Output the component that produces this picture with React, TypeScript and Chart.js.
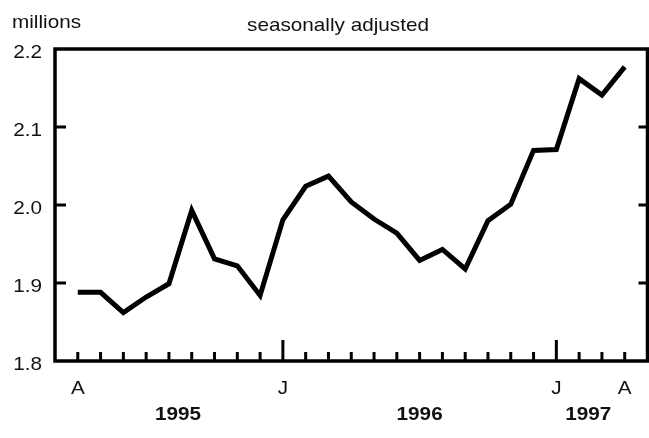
import React, { useEffect, useRef } from "react";
import { Chart, registerables } from "chart.js";

Chart.register(...registerables);

// Monthly, April 1995 – April 1997
const months = ["A","M","J","J","A","S","O","N","D","J","F","M","A","M","J","J","A","S","O","N","D","J","F","M","A"];
const monthLabels = ["A","","","","","","","","","J","","","","","","","","","","","","J","","","A"];
const longTickIdx = [9, 21];
const values = [1.888,1.888,1.862,1.882,1.899,1.993,1.931,1.922,1.884,1.981,2.024,2.037,2.004,1.982,1.964,1.929,1.943,1.918,1.980,2.001,2.070,2.071,2.162,2.141,2.177];
const yTicks = [1.8, 1.9, 2.0, 2.1, 2.2];
const years = ["1995", "1996", "1997"];
const yearPos = [4.4, 15, 22.4];
const unitLabel = "millions";
const titleLabel = "seasonally adjusted";

const FONT = "'Liberation Sans', Arial, sans-serif";
const SX = 1.09;

function drawText(ctx: CanvasRenderingContext2D, text: string, x: number, y: number, align: CanvasTextAlign, font: string) {
  ctx.save();
  ctx.translate(x, y);
  ctx.scale(SX, 1);
  ctx.font = font;
  ctx.textAlign = align;
  ctx.textBaseline = "alphabetic";
  ctx.fillStyle = "#111";
  ctx.fillText(text, 0, 0);
  ctx.restore();
}

const framePlugin = {
  id: "frame",
  afterDraw(chart: any) {
    const ctx: CanvasRenderingContext2D = chart.ctx;
    const { left, right, top, bottom } = chart.chartArea;
    const xs = chart.scales.x;
    const ys = chart.scales.y;
    ctx.save();
    ctx.strokeStyle = "#000";
    ctx.lineWidth = 3.5;
    ctx.lineCap = "butt";
    ctx.strokeRect(left, top, right - left, bottom - top);

    // y ticks (inside, both sides)
    ctx.lineWidth = 3;
    yTicks.forEach((t) => {
      const py = ys.getPixelForValue(t);
      if (t !== yTicks[0] && t !== yTicks[yTicks.length - 1]) {
        ctx.beginPath();
        ctx.moveTo(left, py);
        ctx.lineTo(left + 11, py);
        ctx.moveTo(right, py);
        ctx.lineTo(right - 9, py);
        ctx.stroke();
      }
      drawText(ctx, t.toFixed(1), 42, py + 9, "right", `19px ${FONT}`);
    });

    // x ticks (inside, upward)
    months.forEach((_, i) => {
      const px = xs.getPixelForValue(i);
      const len = longTickIdx.includes(i) ? 21 : 9;
      ctx.beginPath();
      ctx.moveTo(px, bottom);
      ctx.lineTo(px, bottom - len);
      ctx.stroke();
      if (monthLabels[i]) {
        drawText(ctx, monthLabels[i], px, 394, "center", `19px ${FONT}`);
      }
    });

    years.forEach((y, i) => {
      drawText(ctx, y, xs.getPixelForValue(yearPos[i]), 420, "center", `bold 19px ${FONT}`);
    });

    drawText(ctx, unitLabel, 12, 28, "left", `19px ${FONT}`);
    drawText(ctx, titleLabel, 338, 31, "center", `19px ${FONT}`);
    ctx.restore();
  },
};

export default function App() {
  const ref = useRef<HTMLCanvasElement>(null);
  useEffect(() => {
    document.body.style.margin = "0";
    const chart = new Chart(ref.current!, {
      type: "line",
      data: {
        datasets: [
          {
            data: values.map((v, i) => ({ x: i, y: v })),
            borderColor: "#000",
            borderWidth: 5,
            pointRadius: 0,
            tension: 0,
            fill: false,
          },
        ],
      },
      options: {
        responsive: false,
        animation: false,
        devicePixelRatio: 1,
        layout: { padding: { left: 55, right: 1.5, top: 49, bottom: 77 } },
        plugins: { legend: { display: false }, tooltip: { enabled: false } },
        scales: {
          x: { type: "linear", min: -1, max: 25, display: false },
          y: { type: "linear", min: 1.8, max: 2.2, display: false },
        },
      },
      plugins: [framePlugin],
    });
    return () => chart.destroy();
  }, []);
  return (
    <div style={{ position: "fixed", left: 0, top: 0, width: 649, height: 438, background: "#fff" }}>
      <canvas ref={ref} width={649} height={438} style={{ width: 649, height: 438 }} />
    </div>
  );
}
